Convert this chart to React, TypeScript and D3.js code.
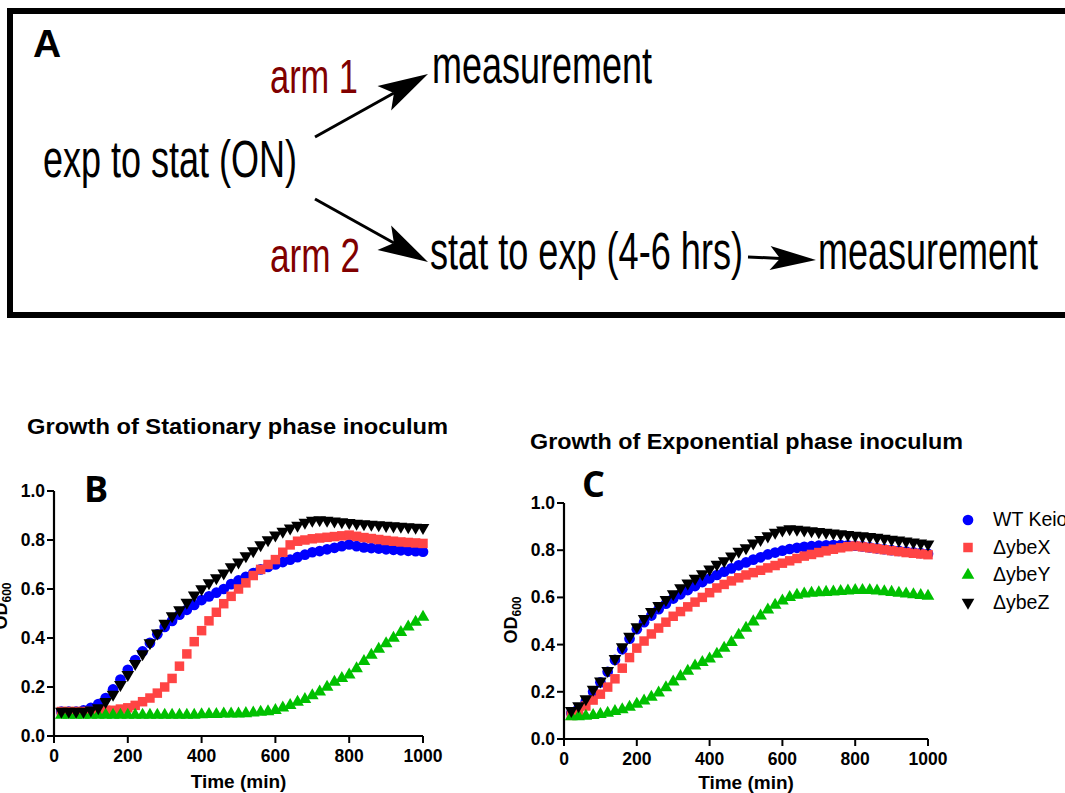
import React from 'react';
import * as d3 from 'd3';

// sampling times (min), shared by both growth panels
const times = [20, 40, 60, 80, 100, 120, 140, 160, 180, 200,
  220, 240, 260, 280, 300, 320, 340, 360, 380, 400,
  420, 440, 460, 480, 500, 520, 540, 560, 580, 600,
  620, 640, 660, 680, 700, 720, 740, 760, 780, 800,
  820, 840, 860, 880, 900, 920, 940, 960, 980, 1000];

// B: stationary phase inoculum
const statWT = [0.10, 0.10, 0.10, 0.105, 0.115, 0.13, 0.155, 0.19, 0.23, 0.27,
  0.31, 0.345, 0.38, 0.415, 0.445, 0.47, 0.495, 0.515, 0.535, 0.555,
  0.57, 0.585, 0.60, 0.62, 0.635, 0.65, 0.665, 0.68, 0.69, 0.70,
  0.71, 0.72, 0.73, 0.74, 0.75, 0.755, 0.762, 0.768, 0.775, 0.782,
  0.775, 0.77, 0.767, 0.765, 0.762, 0.76, 0.758, 0.756, 0.754, 0.752];
const statX = [0.10, 0.10, 0.10, 0.10, 0.10, 0.10, 0.105, 0.105, 0.11, 0.115,
  0.125, 0.14, 0.155, 0.175, 0.20, 0.235, 0.285, 0.335, 0.385, 0.43,
  0.47, 0.505, 0.54, 0.57, 0.60, 0.625, 0.655, 0.68, 0.70, 0.72,
  0.75, 0.78, 0.795, 0.80, 0.805, 0.808, 0.811, 0.814, 0.817, 0.82,
  0.815, 0.81, 0.806, 0.802, 0.798, 0.795, 0.792, 0.79, 0.788, 0.786];
const statY = [0.085, 0.085, 0.085, 0.085, 0.085, 0.085, 0.085, 0.085, 0.085, 0.085,
  0.085, 0.085, 0.085, 0.085, 0.085, 0.085, 0.085, 0.085, 0.085, 0.087,
  0.088, 0.088, 0.09, 0.09, 0.09, 0.092, 0.095, 0.098, 0.10, 0.105,
  0.115, 0.125, 0.138, 0.15, 0.165, 0.18, 0.20, 0.22, 0.235, 0.25,
  0.275, 0.305, 0.33, 0.355, 0.377, 0.40, 0.423, 0.446, 0.465, 0.485];
const statZ = [0.10, 0.10, 0.10, 0.10, 0.105, 0.115, 0.14, 0.17, 0.21, 0.25,
  0.295, 0.335, 0.38, 0.42, 0.46, 0.49, 0.515, 0.545, 0.575, 0.60,
  0.625, 0.645, 0.665, 0.69, 0.71, 0.735, 0.755, 0.78, 0.80, 0.82,
  0.835, 0.848, 0.86, 0.872, 0.88, 0.882, 0.88, 0.877, 0.874, 0.871,
  0.868, 0.866, 0.864, 0.862, 0.859, 0.857, 0.855, 0.853, 0.851, 0.85];

// C: exponential phase inoculum
const expWT = [0.11, 0.13, 0.16, 0.20, 0.24, 0.285, 0.335, 0.38, 0.425, 0.465,
  0.495, 0.523, 0.55, 0.573, 0.595, 0.613, 0.631, 0.648, 0.665, 0.68,
  0.695, 0.709, 0.723, 0.736, 0.748, 0.76, 0.77, 0.782, 0.79, 0.798,
  0.805, 0.81, 0.814, 0.817, 0.819, 0.821, 0.822, 0.822, 0.821, 0.819,
  0.816, 0.812, 0.808, 0.804, 0.80, 0.797, 0.794, 0.791, 0.788, 0.785];
const expX = [0.10, 0.115, 0.14, 0.165, 0.19, 0.22, 0.255, 0.30, 0.345, 0.385,
  0.415, 0.445, 0.47, 0.495, 0.52, 0.54, 0.56, 0.58, 0.60, 0.62,
  0.64, 0.655, 0.67, 0.683, 0.695, 0.705, 0.715, 0.725, 0.735, 0.745,
  0.755, 0.765, 0.775, 0.782, 0.79, 0.797, 0.804, 0.81, 0.815, 0.818,
  0.814, 0.81, 0.806, 0.802, 0.798, 0.794, 0.79, 0.787, 0.784, 0.781];
const expY = [0.095, 0.095, 0.097, 0.10, 0.105, 0.11, 0.117, 0.125, 0.135, 0.148,
  0.162, 0.178, 0.196, 0.218, 0.242, 0.265, 0.288, 0.31, 0.325, 0.34,
  0.36, 0.385, 0.41, 0.44, 0.47, 0.497, 0.522, 0.547, 0.567, 0.585,
  0.60, 0.61, 0.615, 0.618, 0.62, 0.622, 0.624, 0.626, 0.628, 0.63,
  0.63, 0.63, 0.628, 0.625, 0.622, 0.618, 0.615, 0.612, 0.609, 0.606];
const expZ = [0.12, 0.14, 0.17, 0.21, 0.245, 0.29, 0.34, 0.39, 0.435, 0.475,
  0.51, 0.54, 0.565, 0.59, 0.615, 0.64, 0.66, 0.68, 0.70, 0.72,
  0.74, 0.755, 0.775, 0.795, 0.81, 0.83, 0.845, 0.86, 0.875, 0.885,
  0.89, 0.888, 0.885, 0.882, 0.878, 0.875, 0.872, 0.869, 0.866, 0.863,
  0.86, 0.857, 0.854, 0.85, 0.846, 0.842, 0.838, 0.834, 0.83, 0.826];

const strains = ['WT Keio', '\u0394ybeX', '\u0394ybeY', '\u0394ybeZ'];
const colors = ['#0000ff', '#ff4444', '#00c000', '#000000'];
const xTicks = [0, 200, 400, 600, 800, 1000];
const yTicks = [0, 0.2, 0.4, 0.6, 0.8, 1.0];

const font = '"Liberation Sans", Arial, sans-serif';
const narrow = '"Liberation Sans Narrow", "Liberation Sans", Arial, sans-serif';

const symbols = [
  d3.symbol(d3.symbolCircle, 90)(),
  d3.symbol(d3.symbolSquare, 90)(),
  d3.symbol(d3.symbolTriangle, 70)(),
  d3.symbol(d3.symbolTriangle, 70)()
];
const symbolRot = [0, 0, 0, 180];

function Marker({ i, cx, cy }) {
  return (
    <path d={symbols[i]} fill={colors[i]}
      transform={`translate(${cx},${cy}) rotate(${symbolRot[i]})`} />
  );
}

function Panel({ x0, x1, yb, yt, series, title, titleX, titleY, titleW, letter, letterX, letterY, labelX, labelY, xlabOff }) {
  const x = d3.scaleLinear().domain([0, 1000]).range([x0, x1]);
  const y = d3.scaleLinear().domain([0, 1]).range([yb, yt]);
  const fmt = d3.format('.1f');
  return (
    <g>
      <text x={titleX} y={titleY} fontFamily={font} fontWeight="bold" fontSize={22}
        textLength={titleW} lengthAdjust="spacingAndGlyphs">{title}</text>
      <text x={letterX} y={letterY} fontFamily='"Open Sans", sans-serif' fontWeight="bold" fontSize={36}>{letter}</text>

      {series.map((vals, si) => (
        <g key={si}>
          {vals.map((v, k) => <Marker key={k} i={si} cx={x(times[k])} cy={y(v)} />)}
        </g>
      ))}

      <line x1={x0} x2={x0} y1={y(0)} y2={y(1)} stroke="#000" strokeWidth={2.2} />
      <line x1={x0 - 1} x2={x1} y1={yb} y2={yb} stroke="#000" strokeWidth={2.2} />
      {yTicks.map(t => (
        <g key={t}>
          <line x1={x0 - 7} x2={x0} y1={y(t)} y2={y(t)} stroke="#000" strokeWidth={2} />
          <text x={x0 - 9} y={y(t) + 6} textAnchor="end" fontFamily={font} fontWeight="bold" fontSize={17.5}>{fmt(t)}</text>
        </g>
      ))}
      {xTicks.map(t => (
        <g key={t}>
          <line x1={x(t)} x2={x(t)} y1={yb} y2={yb + 7} stroke="#000" strokeWidth={2} />
          <text x={x(t)} y={yb + 26} textAnchor="middle" fontFamily={font} fontWeight="bold" fontSize={17.5}>{t}</text>
        </g>
      ))}
      <text x={(x0 + x1) / 2} y={yb + xlabOff} textAnchor="middle" fontFamily={font} fontWeight="bold" fontSize={19}>Time (min)</text>
      <text transform={`translate(${labelX},${labelY}) rotate(-90)`} textAnchor="middle"
        fontFamily={font} fontWeight="bold" fontSize={18}>
        OD<tspan fontSize={12} dy={4}>600</tspan>
      </text>
    </g>
  );
}

function Arrow({ a, L = 50, W = 14, N = 11 }) {
  const [x1, y1, x2, y2] = a;
  const dx = x2 - x1, dy = y2 - y1, len = Math.hypot(dx, dy);
  const ux = dx / len, uy = dy / len, nx = -uy, ny = ux;
  const bx = x2 - L * ux, by = y2 - L * uy;
  const mx = x2 - (L - N) * ux, my = y2 - (L - N) * uy;
  const head = `M${x2},${y2}L${bx + W * nx},${by + W * ny}L${mx},${my}L${bx - W * nx},${by - W * ny}Z`;
  return (
    <g>
      <line x1={x1} y1={y1} x2={mx} y2={my} stroke="#000" strokeWidth={3} />
      <path d={head} fill="#000" />
    </g>
  );
}

// schematic arrows: start x, start y, tip x, tip y
const arrows = [[315, 137, 428, 74], [315, 199, 428, 262], [748, 257, 816, 260]];

export default function App() {
  const darkRed = '#800000';
  return (
    <svg width={1065} height={793} style={{ position: 'absolute', left: 0, top: 0, background: '#fff' }}>
      <rect x={0} y={0} width={1065} height={793} fill="#fff" />
      {/* panel A */}
      <rect x={10} y={11} width={1080} height={304} fill="none" stroke="#000" strokeWidth={6} />
      <text x={33} y={57} fontFamily={font} fontWeight="bold" fontSize={39}>A</text>
      <text x={270} y={93} fill={darkRed} fontFamily={narrow} fontSize={48} textLength={88} lengthAdjust="spacingAndGlyphs">arm 1</text>
      <text x={270} y={272} fill={darkRed} fontFamily={narrow} fontSize={48} textLength={90} lengthAdjust="spacingAndGlyphs">arm 2</text>
      <text x={43} y={177} fontFamily={narrow} fontSize={51} textLength={254} lengthAdjust="spacingAndGlyphs">exp to stat (ON)</text>
      <text x={432} y={83} fontFamily={narrow} fontSize={51} textLength={220} lengthAdjust="spacingAndGlyphs">measurement</text>
      <text x={430} y={269} fontFamily={narrow} fontSize={51} textLength={313} lengthAdjust="spacingAndGlyphs">stat to exp (4-6 hrs)</text>
      <text x={818} y={269} fontFamily={narrow} fontSize={51} textLength={220} lengthAdjust="spacingAndGlyphs">measurement</text>
      <Arrow a={arrows[0]} />
      <Arrow a={arrows[1]} />
      <Arrow a={arrows[2]} L={46} W={12} N={10} />

      <Panel x0={54} x1={423} yb={736} yt={491} series={[statWT, statX, statY, statZ]}
        title="Growth of Stationary phase inoculum" titleX={27} titleY={434} titleW={421}
        letter="B" letterX={84} letterY={502} labelX={7} labelY={606} xlabOff={52} />
      <Panel x0={564} x1={928} yb={739} yt={503} series={[expWT, expX, expY, expZ]}
        title="Growth of Exponential phase inoculum" titleX={530} titleY={449} titleW={433}
        letter="C" letterX={582} letterY={497} labelX={517} labelY={620} xlabOff={50} />

      {/* legend */}
      {strains.map((s, i) => (
        <g key={s}>
          <Marker i={i} cx={968} cy={520 + i * 27.5} />
          <text x={993} y={526 + i * 27.5} fontFamily={font} fontSize={19.5}>{s}</text>
        </g>
      ))}
    </svg>
  );
}
